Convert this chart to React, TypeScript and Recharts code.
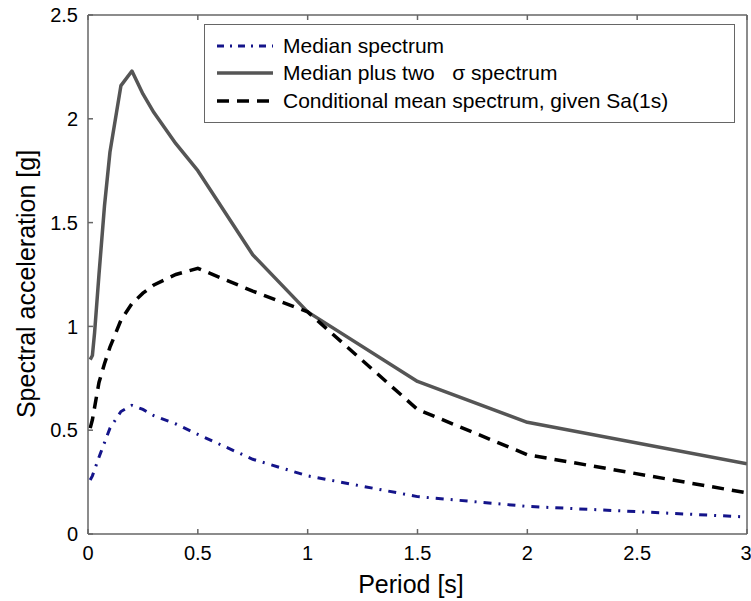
import React from 'react';
import { LineChart, Line, XAxis, YAxis, Legend, Label } from 'recharts';

const periods = [0.01, 0.02, 0.03, 0.05, 0.075, 0.1, 0.15, 0.2, 0.25, 0.3, 0.4, 0.5, 0.75, 1, 1.5, 2, 3];
const medianSa = [0.26, 0.28, 0.31, 0.37, 0.44, 0.51, 0.59, 0.62, 0.6, 0.57, 0.53, 0.48, 0.36, 0.28, 0.18, 0.133, 0.082];
const plusTwoSigmaSa = [0.84, 0.86, 0.97, 1.25, 1.58, 1.84, 2.16, 2.23, 2.12, 2.03, 1.88, 1.75, 1.345, 1.07, 0.735, 0.538, 0.338];
const cmsSa = [0.51, 0.55, 0.61, 0.73, 0.82, 0.9, 1.03, 1.11, 1.16, 1.2, 1.25, 1.28, 1.17, 1.07, 0.6, 0.382, 0.198];

const xTicks = [0, 0.5, 1, 1.5, 2, 2.5, 3];
const yTicks = [0, 0.5, 1, 1.5, 2, 2.5];

const data = periods.map((p, i) => ({
  period: p,
  median: medianSa[i],
  plus2: plusTwoSigmaSa[i],
  cms: cmsSa[i],
}));

const FONT = '"Liberation Sans", Arial, sans-serif';
const AXIS = '#666666';
const NAVY = '#14148a';
const GREY = '#555555';

const legendItems = [
  { label: 'Median spectrum', color: NAVY, dash: '7 6 2 6', width: 3 },
  { label: 'Median plus two\u00a0\u00a0 σ spectrum', color: GREY, dash: undefined, width: 3.5 },
  { label: 'Conditional mean spectrum, given Sa(1s)', color: '#000000', dash: '12 8', width: 3.5 },
];

const LegendBox = () => (
  <div
    style={{
      width: 531,
      height: 99,
      border: '1.5px solid #666',
      background: '#fff',
      boxSizing: 'border-box',
      paddingTop: 7,
      fontFamily: FONT,
      fontSize: 21,
      color: '#000',
    }}
  >
    {legendItems.map((it) => (
      <div key={it.label} style={{ display: 'flex', alignItems: 'center', height: 27.5 }}>
        <svg width={78} height={10} style={{ flex: 'none' }}>
          <line x1={12} y1={5} x2={68} y2={5} stroke={it.color} strokeWidth={it.width} strokeDasharray={it.dash} />
        </svg>
        <span style={{ whiteSpace: 'pre' }}>{it.label}</span>
      </div>
    ))}
  </div>
);

const tickStyle = { fill: '#000', fontSize: 20, fontFamily: FONT };

export default function App() {
  return (
    <div style={{ position: 'absolute', left: 0, top: 0, background: '#fff' }}>
      <LineChart width={751} height={601} data={data} margin={{ top: 15, right: 4, left: 0, bottom: 0 }}>
        <XAxis
          dataKey="period"
          type="number"
          domain={[0, 3]}
          ticks={xTicks}
          allowDataOverflow
          height={67}
          tickSize={-5}
          tickMargin={17}
          stroke={AXIS}
          strokeWidth={1.5}
          tick={tickStyle}
          tickFormatter={(v) => String(v)}
        >
          <Label
            content={() => (
              <text x={411} y={593} textAnchor="middle" fontSize={25} fontFamily={FONT} fill="#000">
                Period [s]
              </text>
            )}
          />
        </XAxis>
        <XAxis
          xAxisId="top"
          orientation="top"
          dataKey="period"
          type="number"
          domain={[0, 3]}
          ticks={xTicks}
          mirror
          height={1}
          tickSize={5}
          stroke={AXIS}
          strokeWidth={1.5}
          tickFormatter={() => ''}
        />
        <YAxis
          type="number"
          domain={[0, 2.5]}
          ticks={yTicks}
          width={88}
          tickSize={-5}
          tickMargin={15}
          stroke={AXIS}
          strokeWidth={1.5}
          tick={tickStyle}
          tickFormatter={(v) => String(v)}
        >
          <Label
            content={() => (
              <text
                x={26}
                y={284}
                transform="rotate(-90 26 284)"
                textAnchor="middle"
                dominantBaseline="central"
                fontSize={25}
                fontFamily={FONT}
                fill="#000"
              >
                Spectral acceleration [g]
              </text>
            )}
          />
        </YAxis>
        <YAxis
          yAxisId="right"
          orientation="right"
          type="number"
          domain={[0, 2.5]}
          ticks={yTicks}
          mirror
          width={1}
          tickSize={5}
          stroke={AXIS}
          strokeWidth={1.5}
          tickFormatter={() => ''}
        />
        <Legend
          layout="horizontal"
          verticalAlign="middle"
          align="center"
          content={() => <LegendBox />}
          wrapperStyle={{ position: 'absolute', left: 204, top: 24, width: 531 }}
        />
        <Line
          type="linear"
          dataKey="plus2"
          stroke={GREY}
          strokeWidth={3.5}
          dot={false}
          isAnimationActive={false}
          strokeLinejoin="round"
        />
        <Line
          type="linear"
          dataKey="cms"
          stroke="#000000"
          strokeWidth={3.5}
          strokeDasharray="12 8"
          dot={false}
          isAnimationActive={false}
        />
        <Line
          type="linear"
          dataKey="median"
          stroke={NAVY}
          strokeWidth={3}
          strokeDasharray="8 7 2 7"
          dot={false}
          isAnimationActive={false}
        />
      </LineChart>
    </div>
  );
}
